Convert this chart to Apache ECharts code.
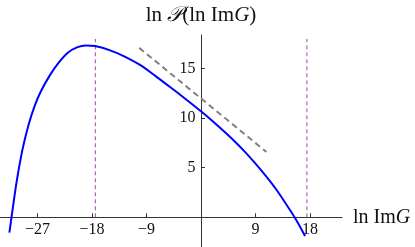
<!DOCTYPE html>
<html><head><meta charset="utf-8">
<script src="https://cdn.jsdelivr.net/npm/echarts@6/dist/echarts.min.js"></script>
<style>html,body{margin:0;padding:0;background:#fff}#c{width:415px;height:247px}</style>
</head><body><div id="c"></div>
<script>
// Data
const curveX = [-31.65,-31.3,-30.5,-29.5,-28.5,-27.5,-26.5,-25,-23.5,-22,-20.5,-19,-17.5,-15,-12.5,-10,-7.5,-5,-2.5,0,2.5,5,7.5,10,12.5,15,16,17.2];
const curveY = [-1.55,0,3.4,6.8,9.3,11.2,12.65,14.3,15.6,16.6,17.15,17.35,17.28,16.85,16.2,15.35,14.25,13.1,11.92,10.7,9.4,8.0,6.45,4.7,2.75,0.45,-0.55,-1.9];
const asymX = [-10.2, 10.8];
const asymY = [17.1, 6.6];
const markX = [-17.45, 17.5];
const markY = [0, 18.0];
const xTicks = [-27,-18,-9,9,18];
const yTicks = [5,10,15];

const font = 'Liberation Serif';
const fmt = v => (v < 0 ? '\u2212' + Math.abs(v) : String(v));
const chart = echarts.init(document.getElementById('c'));
const series = [
  {type:'line', data: curveX.map((x,i)=>[x,curveY[i]]), showSymbol:false, smooth:0.25,
   lineStyle:{color:'#0000ff', width:2}, z:5},
  {type:'line', data: asymX.map((x,i)=>[x,asymY[i]]), showSymbol:false,
   lineStyle:{color:'#808080', width:2, type:[6,4]}, z:4}
];
markX.forEach(x=>{
  series.push({type:'line', data: markY.map(y=>[x,y]), showSymbol:false,
    lineStyle:{color:'#9a50a0', width:1, type:[4,3]}, z:3});
});
chart.setOption({
  animation:false,
  grid:{left:0, right:73, top:35, bottom:0, containLabel:false, outerBoundsMode:'none'},
  xAxis:{type:'value', min:-33.2, max:23.3,
    axisLine:{onZero:true, lineStyle:{color:'#333', width:1}},
    axisTick:{show:true, inside:true, length:4, customValues:xTicks, lineStyle:{color:'#333'}},
    axisLabel:{show:false},
    splitLine:{show:false},
    name:'ln Im{i|G}', nameLocation:'end', nameGap:11,
    nameTextStyle:{fontFamily:font, fontSize:20, color:'#111', verticalAlign:'middle',
      rich:{i:{fontFamily:font, fontStyle:'italic', fontSize:20, color:'#111'}}}
  },
  yAxis:{type:'value', min:-3, max:18.4,
    axisLine:{onZero:true, lineStyle:{color:'#333', width:1}},
    axisTick:{show:true, inside:true, length:4, customValues:yTicks, lineStyle:{color:'#333'}},
    axisLabel:{show:false},
    splitLine:{show:false},
    name:'ln {s|\uD835\uDCAB}(ln Im{i|G})', nameLocation:'end', nameGap:9,
    nameTextStyle:{fontFamily:font, fontSize:21, color:'#111', align:'center',
      rich:{i:{fontFamily:font, fontStyle:'italic', fontSize:21, color:'#111'},
            s:{fontFamily:font, fontStyle:'italic', fontSize:21, color:'#111'}}}
  },
  series: series
});
// Tick labels placed through the chart's own axis scales
const graphics = [];
xTicks.forEach(v=>{
  const p = chart.convertToPixel({xAxisIndex:0, yAxisIndex:0}, [v, 0]);
  graphics.push({type:'text', x:p[0], y:p[1]+5, silent:true,
    style:{text:fmt(v), font:'16px "Liberation Serif"', fill:'#111', align:'center', verticalAlign:'top'}});
});
yTicks.forEach(v=>{
  const p = chart.convertToPixel({xAxisIndex:0, yAxisIndex:0}, [0, v]);
  graphics.push({type:'text', x:p[0]-5.5, y:p[1], silent:true,
    style:{text:fmt(v), font:'16px "Liberation Serif"', fill:'#111', align:'right', verticalAlign:'middle'}});
});
chart.setOption({graphic: graphics});
</script></body></html>
